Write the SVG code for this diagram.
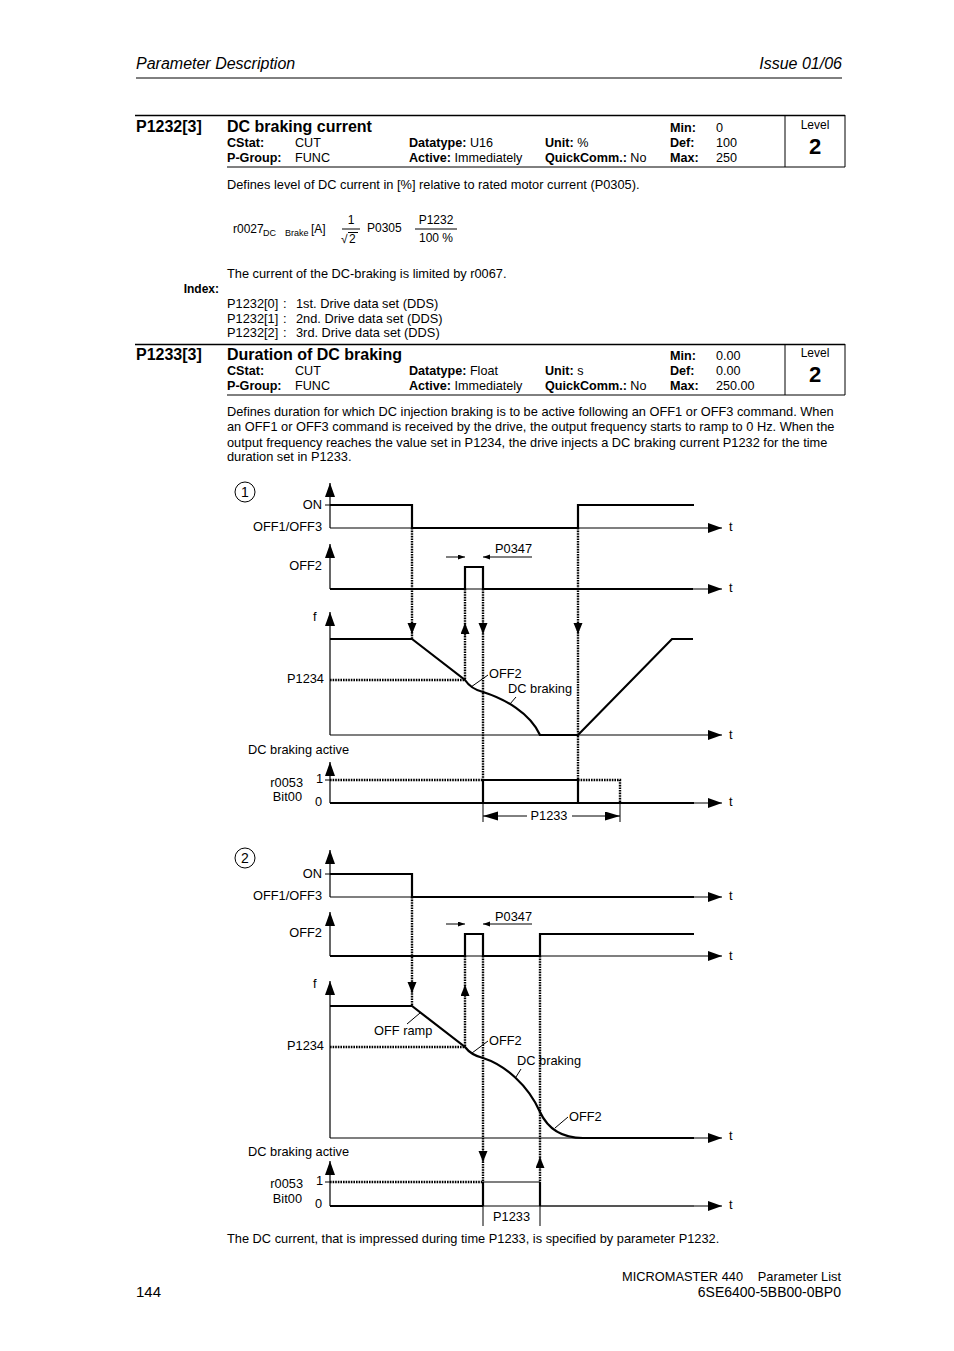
<svg xmlns="http://www.w3.org/2000/svg" width="954" height="1351" viewBox="0 0 954 1351">
<defs>
<style>
text{font-family:"Liberation Sans",Arial,sans-serif;fill:#000;font-size:12.8px}
.b{font-weight:bold}
.e{text-anchor:end}
.m{text-anchor:middle}
.r{font-size:12.6px}
.ln{stroke:#000;fill:none;stroke-width:1}
.ax{stroke:#000;fill:none;stroke-width:1.2}
.sg{stroke:#000;fill:none;stroke-width:2.2}
.gr{stroke:#555;fill:none;stroke-width:2}
.dt{stroke:#000;fill:none;stroke-width:2.4;stroke-dasharray:1.6 1}
.hd{stroke:#000;fill:none;stroke-width:1.6}
</style>
<marker id="axh" markerUnits="userSpaceOnUse" markerWidth="16" markerHeight="12" refX="14" refY="5" orient="auto"><path d="M0,0 L14,5 L0,10 Z" fill="#000"/></marker>
<marker id="dh" markerUnits="userSpaceOnUse" markerWidth="12" markerHeight="10" refX="11" refY="4.5" orient="auto"><path d="M0,0 L11,4.5 L0,9 Z" fill="#000"/></marker>
<marker id="sh" markerUnits="userSpaceOnUse" markerWidth="8" markerHeight="6" refX="7" refY="2.5" orient="auto"><path d="M0,0 L7,2.5 L0,5 Z" fill="#000"/></marker>
<marker id="bh" markerUnits="userSpaceOnUse" markerWidth="16" markerHeight="10" refX="15" refY="4.5" orient="auto"><path d="M0,0 L15,4.5 L0,9 Z" fill="#000"/></marker>
</defs>
<rect width="954" height="1351" fill="#fff"/>

<g id="header">
<text x="136" y="69" style="font-style:italic;font-size:16px">Parameter Description</text>
<text x="842" y="69" class="e" style="font-style:italic;font-size:16px">Issue 01/06</text>
<line x1="136" y1="78" x2="842" y2="78" class="ln"/>
</g>

<g id="p1232">
<line x1="135" y1="115.5" x2="845" y2="115.5" class="hd"/>
<line x1="227" y1="167" x2="845" y2="167" class="ln"/>
<line x1="785" y1="115" x2="785" y2="167" class="ln"/>
<line x1="845" y1="115" x2="845" y2="167" class="ln"/>
<text x="136" y="132" class="b" style="font-size:16px">P1232[3]</text>
<text x="227" y="132" class="b" style="font-size:16px">DC braking current</text>
<text x="670" y="132" class="b r">Min:</text><text x="716" y="132" class="r">0</text>
<text x="227" y="147" class="b r">CStat:</text><text x="295" y="147" class="r">CUT</text>
<text x="409" y="147" class="r"><tspan class="b">Datatype:</tspan> U16</text>
<text x="545" y="147" class="r"><tspan class="b">Unit:</tspan> %</text>
<text x="670" y="147" class="b r">Def:</text><text x="716" y="147" class="r">100</text>
<text x="227" y="162" class="b r">P-Group:</text><text x="295" y="162" class="r">FUNC</text>
<text x="409" y="162" class="r"><tspan class="b">Active:</tspan> Immediately</text>
<text x="545" y="162" class="r"><tspan class="b">QuickComm.:</tspan> No</text>
<text x="670" y="162" class="b r">Max:</text><text x="716" y="162" class="r">250</text>
<text x="815" y="129" class="m" style="font-size:12px">Level</text>
<text x="815" y="154" class="m b" style="font-size:22px">2</text>
</g>

<g id="p1232-text">
<text x="227" y="189">Defines level of DC current in [%] relative to rated motor current (P0305).</text>
<text x="233" y="233" style="font-size:12px">r0027</text>
<text x="263" y="236" style="font-size:9px">DC</text>
<text x="285" y="236" style="font-size:9px">Brake</text>
<text x="311" y="233" style="font-size:12px">[A]</text>
<text x="351" y="224" class="m" style="font-size:12px">1</text>
<line x1="342" y1="229" x2="360" y2="229" class="ln"/>
<text x="341" y="243" style="font-size:12px">√</text>
<line x1="348" y1="232.5" x2="358" y2="232.5" class="ln"/>
<text x="349" y="243" style="font-size:12px">2</text>
<text x="367" y="232" style="font-size:12px">P0305</text>
<text x="436" y="224" class="m" style="font-size:12px">P1232</text>
<line x1="415" y1="229" x2="457" y2="229" class="ln"/>
<text x="436" y="242" class="m" style="font-size:12px">100 %</text>
<text x="227" y="278">The current of the DC-braking is limited by r0067.</text>
<text x="219" y="293" class="b e" style="font-size:12px">Index:</text>
<text x="227" y="308">P1232[0]</text><text x="283" y="308">:</text><text x="296" y="308">1st. Drive data set (DDS)</text>
<text x="227" y="323">P1232[1]</text><text x="283" y="323">:</text><text x="296" y="323">2nd. Drive data set (DDS)</text>
<text x="227" y="337">P1232[2]</text><text x="283" y="337">:</text><text x="296" y="337">3rd. Drive data set (DDS)</text>
</g>

<g id="p1233">
<line x1="135" y1="344.5" x2="845" y2="344.5" class="hd"/>
<line x1="227" y1="395" x2="845" y2="395" class="ln"/>
<line x1="785" y1="344" x2="785" y2="395" class="ln"/>
<line x1="845" y1="344" x2="845" y2="395" class="ln"/>
<text x="136" y="360" class="b" style="font-size:16px">P1233[3]</text>
<text x="227" y="360" class="b" style="font-size:16px">Duration of DC braking</text>
<text x="670" y="360" class="b r">Min:</text><text x="716" y="360" class="r">0.00</text>
<text x="227" y="375" class="b r">CStat:</text><text x="295" y="375" class="r">CUT</text>
<text x="409" y="375" class="r"><tspan class="b">Datatype:</tspan> Float</text>
<text x="545" y="375" class="r"><tspan class="b">Unit:</tspan> s</text>
<text x="670" y="375" class="b r">Def:</text><text x="716" y="375" class="r">0.00</text>
<text x="227" y="390" class="b r">P-Group:</text><text x="295" y="390" class="r">FUNC</text>
<text x="409" y="390" class="r"><tspan class="b">Active:</tspan> Immediately</text>
<text x="545" y="390" class="r"><tspan class="b">QuickComm.:</tspan> No</text>
<text x="670" y="390" class="b r">Max:</text><text x="716" y="390" class="r">250.00</text>
<text x="815" y="357" class="m" style="font-size:12px">Level</text>
<text x="815" y="382" class="m b" style="font-size:22px">2</text>
</g>

<g id="p1233-text">
<text x="227" y="416">Defines duration for which DC injection braking is to be active following an OFF1 or OFF3 command. When</text>
<text x="227" y="431">an OFF1 or OFF3 command is received by the drive, the output frequency starts to ramp to 0 Hz. When the</text>
<text x="227" y="447">output frequency reaches the value set in P1234, the drive injects a DC braking current P1232 for the time</text>
<text x="227" y="461">duration set in P1233.</text>
</g>

<!-- Diagram 1 -->
<g id="d1-mark">
<circle cx="245" cy="492" r="10" class="ln"/>
<text x="245" y="497" class="m" style="font-size:14px">1</text>
</g>
<g id="d1-off13">
<line x1="330" y1="528" x2="330" y2="483" class="ax" marker-end="url(#axh)"/>
<line x1="330" y1="528" x2="722" y2="528" class="ax" marker-end="url(#axh)"/>
<line x1="325" y1="505" x2="330" y2="505" class="ln"/>
<polyline points="330,505 412,505 412,528 578,528 578,505 694,505" class="sg"/>
<text x="322" y="509" class="e">ON</text>
<text x="322" y="531" class="e">OFF1/OFF3</text>
<text x="729" y="531">t</text>
</g>
<g id="d1-off2">
<line x1="330" y1="589" x2="330" y2="544" class="ax" marker-end="url(#axh)"/>
<line x1="330" y1="589" x2="722" y2="589" class="ax" marker-end="url(#axh)"/>
<polyline points="330,589 465,589 465,567 483,567 483,589 693,589" class="sg"/>
<text x="322" y="570" class="e">OFF2</text>
<text x="729" y="592">t</text>
<line x1="446" y1="557" x2="465" y2="557" class="ln" marker-end="url(#sh)"/>
<line x1="532" y1="557" x2="483" y2="557" class="ln" marker-end="url(#sh)"/>
<text x="495" y="553">P0347</text>
</g>
<g id="d1-freq">
<line x1="330" y1="735" x2="330" y2="612" class="ax" marker-end="url(#axh)"/>
<line x1="330" y1="735" x2="722" y2="735" class="ax" marker-end="url(#axh)"/>
<path d="M330,639 L412,639 L465,680 Q471,689 483,692 C505,699 530,713 540,735 L578,735 L672,639 L693,639" class="sg"/>
<text x="313" y="621">f</text>
<text x="324" y="683" class="e">P1234</text>
<text x="729" y="739">t</text>
<line x1="471" y1="687" x2="488" y2="675" class="ln"/>
<text x="489" y="678">OFF2</text>
<line x1="516" y1="697" x2="510" y2="704" class="ln"/>
<text x="508" y="693">DC braking</text>
</g>
<g id="d1-active">
<text x="248" y="754">DC braking active</text>
<line x1="330" y1="803" x2="330" y2="762" class="ax" marker-end="url(#axh)"/>
<line x1="330" y1="803" x2="722" y2="803" class="ax" marker-end="url(#axh)"/>
<line x1="330" y1="803" x2="694" y2="803" class="sg"/>
<line x1="325" y1="780" x2="330" y2="780" class="ln"/>
<polyline points="483,803 483,780 578,780 578,803" class="sg"/>
<text x="303" y="787" class="e">r0053</text>
<text x="302" y="801" class="e">Bit00</text>
<text x="316" y="783">1</text>
<text x="315" y="806">0</text>
<text x="729" y="806">t</text>
<line x1="483" y1="803" x2="483" y2="822" class="ln"/>
<line x1="620" y1="803" x2="620" y2="822" class="ln"/>
<line x1="527" y1="816" x2="483" y2="816" class="ln" marker-end="url(#bh)"/>
<line x1="572" y1="816" x2="620" y2="816" class="ln" marker-end="url(#bh)"/>
<text x="549" y="820" class="m">P1233</text>
</g>

<!-- Diagram 2 -->
<g id="d2-mark">
<circle cx="245" cy="858" r="10" class="ln"/>
<text x="245" y="863" class="m" style="font-size:14px">2</text>
</g>
<g id="d2-off13">
<line x1="330" y1="897" x2="330" y2="850" class="ax" marker-end="url(#axh)"/>
<line x1="330" y1="897" x2="722" y2="897" class="ax" marker-end="url(#axh)"/>
<line x1="325" y1="874" x2="330" y2="874" class="ln"/>
<polyline points="330,874 412,874 412,897 694,897" class="sg"/>
<text x="322" y="878" class="e">ON</text>
<text x="322" y="900" class="e">OFF1/OFF3</text>
<text x="729" y="900">t</text>
</g>
<g id="d2-off2">
<line x1="330" y1="956" x2="330" y2="912" class="ax" marker-end="url(#axh)"/>
<line x1="330" y1="956" x2="722" y2="956" class="ax" marker-end="url(#axh)"/>
<polyline points="330,956 465,956 465,934 483,934 483,956 540,956 540,934 694,934" class="sg"/>
<text x="322" y="937" class="e">OFF2</text>
<text x="729" y="960">t</text>
<line x1="446" y1="924" x2="465" y2="924" class="ln" marker-end="url(#sh)"/>
<line x1="532" y1="924" x2="483" y2="924" class="ln" marker-end="url(#sh)"/>
<text x="495" y="921">P0347</text>
</g>
<g id="d2-freq">
<line x1="330" y1="1138" x2="330" y2="981" class="ax" marker-end="url(#axh)"/>
<line x1="330" y1="1138" x2="722" y2="1138" class="ax" marker-end="url(#axh)"/>
<path d="M330,1006 L412,1006 L465,1047 Q471,1055 483,1058 C505,1065 528,1085 540,1112 C547,1127 560,1138 583,1138 L694,1138" class="sg"/>
<text x="313" y="988">f</text>
<text x="324" y="1050" class="e">P1234</text>
<text x="729" y="1140">t</text>
<line x1="407" y1="1024" x2="420" y2="1013" class="ln"/>
<text x="374" y="1035">OFF ramp</text>
<line x1="472" y1="1053" x2="488" y2="1041" class="ln"/>
<text x="489" y="1045">OFF2</text>
<line x1="521" y1="1069" x2="516" y2="1077" class="ln"/>
<text x="517" y="1065">DC braking</text>
<line x1="568" y1="1117" x2="555" y2="1128" class="ln"/>
<text x="569" y="1121">OFF2</text>
</g>
<g id="d2-active">
<text x="248" y="1156">DC braking active</text>
<line x1="330" y1="1206" x2="330" y2="1161" class="ax" marker-end="url(#axh)"/>
<line x1="330" y1="1206" x2="722" y2="1206" class="ax" marker-end="url(#axh)"/>
<line x1="330" y1="1206" x2="483" y2="1206" class="sg"/>
<line x1="540" y1="1206" x2="694" y2="1206" class="gr"/>
<line x1="325" y1="1182" x2="330" y2="1182" class="ln"/>
<line x1="483" y1="1182" x2="540" y2="1182" class="gr" style="stroke-width:1.5"/>
<line x1="483" y1="1182" x2="483" y2="1206" class="sg"/>
<line x1="540" y1="1182" x2="540" y2="1206" class="sg"/>
<text x="303" y="1188" class="e">r0053</text>
<text x="302" y="1203" class="e">Bit00</text>
<text x="316" y="1185">1</text>
<text x="315" y="1208">0</text>
<text x="729" y="1209">t</text>
<line x1="483" y1="1206" x2="483" y2="1226" class="ln"/>
<line x1="540" y1="1206" x2="540" y2="1226" class="ln"/>
<text x="493" y="1221">P1233</text>
</g>

<g id="connectors">
<line x1="412" y1="528" x2="412" y2="639" class="dt"/>
<line x1="412" y1="622" x2="412" y2="634" class="ln" marker-end="url(#dh)"/>
<line x1="465" y1="589" x2="465" y2="680" class="dt"/>
<line x1="465" y1="636" x2="465" y2="623" class="ln" marker-end="url(#dh)"/>
<line x1="483" y1="589" x2="483" y2="780" class="dt"/>
<line x1="483" y1="622" x2="483" y2="634" class="ln" marker-end="url(#dh)"/>
<line x1="578" y1="528" x2="578" y2="780" class="dt"/>
<line x1="578" y1="622" x2="578" y2="634" class="ln" marker-end="url(#dh)"/>
<line x1="330" y1="680" x2="465" y2="680" class="dt"/>
<line x1="330" y1="780" x2="483" y2="780" class="dt"/>
<polyline points="578,780 620,780 620,803" class="dt"/>
<line x1="412" y1="897" x2="412" y2="1006" class="dt"/>
<line x1="412" y1="981" x2="412" y2="993" class="ln" marker-end="url(#dh)"/>
<line x1="465" y1="956" x2="465" y2="1047" class="dt"/>
<line x1="465" y1="997" x2="465" y2="985" class="ln" marker-end="url(#dh)"/>
<line x1="483" y1="956" x2="483" y2="1182" class="dt"/>
<line x1="483" y1="1150" x2="483" y2="1162" class="ln" marker-end="url(#dh)"/>
<line x1="540" y1="956" x2="540" y2="1182" class="dt"/>
<line x1="540" y1="1169" x2="540" y2="1157" class="ln" marker-end="url(#dh)"/>
<line x1="330" y1="1047" x2="465" y2="1047" class="dt"/>
<line x1="330" y1="1182" x2="483" y2="1182" class="dt"/>
</g>

<g id="footer">
<text x="227" y="1243">The DC current, that is impressed during time P1233, is specified by parameter P1232.</text>
<text x="136" y="1297" style="font-size:15px">144</text>
<text x="743" y="1281" class="e">MICROMASTER 440</text>
<text x="841" y="1281" class="e">Parameter List</text>
<text x="841" y="1297" class="e" style="font-size:14px">6SE6400-5BB00-0BP0</text>
</g>
</svg>
